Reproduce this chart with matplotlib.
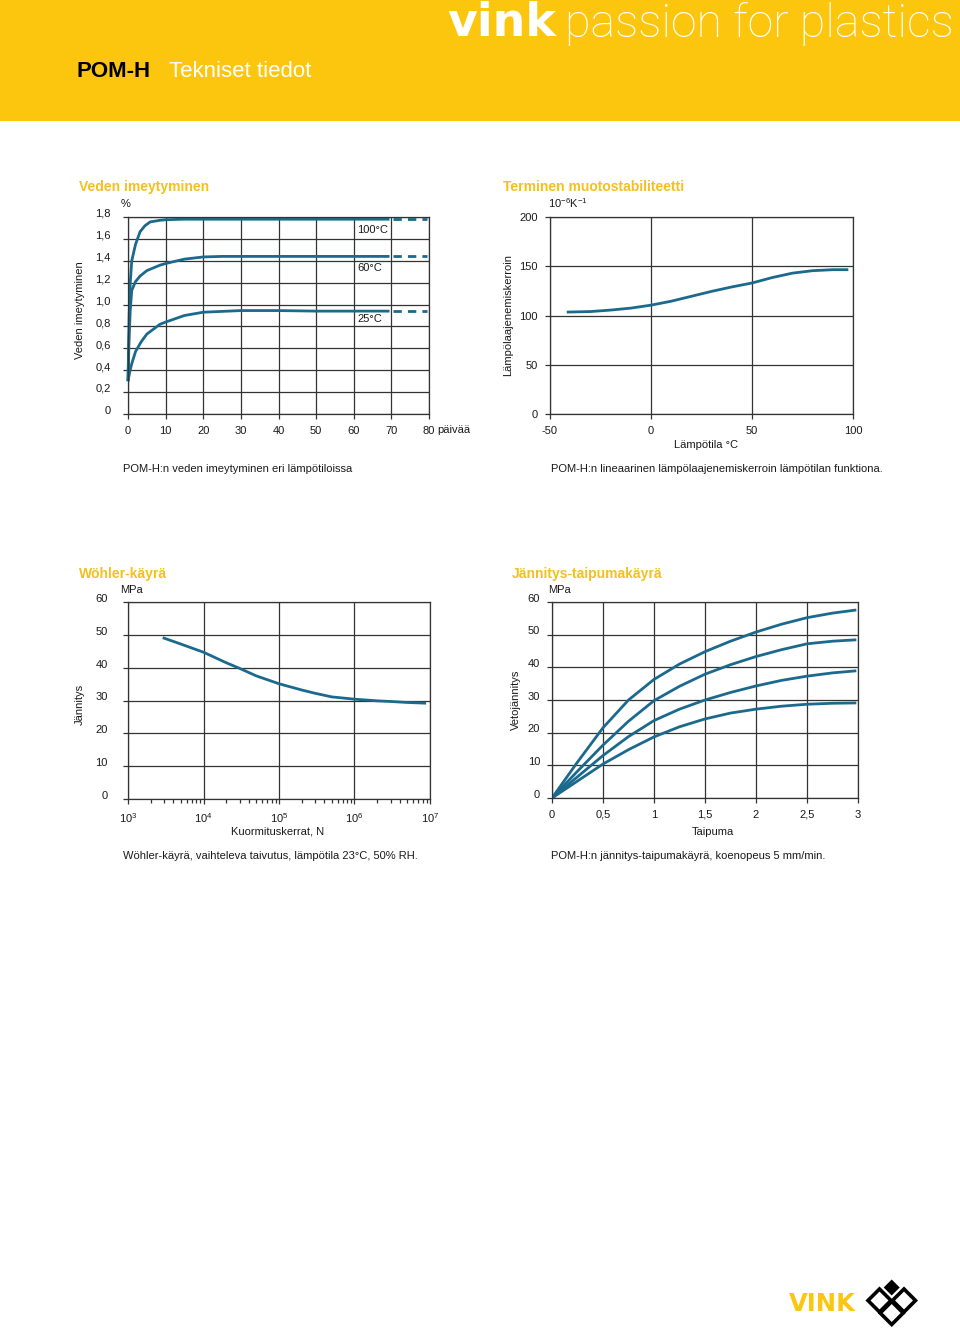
import matplotlib
matplotlib.use("Agg")
import matplotlib.pyplot as plt
from matplotlib.patches import Rectangle, Polygon
from matplotlib.transforms import ScaledTranslation

W, H = 960, 1329

plt.rcParams['font.family'] = ['Liberation Sans', 'DejaVu Sans']
plt.rcParams['mathtext.fontset'] = 'custom'
plt.rcParams['mathtext.rm'] = 'Liberation Sans'
plt.rcParams['axes.unicode_minus'] = False

# --- data -------------------------------------------------------------
# water absorption (%) vs days
days_100 = [0, 0.3, 0.6, 1.0, 2.0, 3.2, 4.5, 5.9, 8.5, 10, 15, 20, 30, 40, 50, 60, 69.5]
abs_100 = [0.3, 0.9, 1.2, 1.4, 1.55, 1.665, 1.72, 1.755, 1.77, 1.775, 1.78, 1.78, 1.78, 1.78, 1.78, 1.78, 1.78]
days_60 = [0, 0.3, 0.6, 1.0, 2.0, 3.2, 5, 8.5, 10, 15, 20, 25, 30, 40, 50, 60, 69.5]
abs_60 = [0.3, 0.7, 0.95, 1.13, 1.21, 1.26, 1.31, 1.36, 1.375, 1.415, 1.435, 1.44, 1.44, 1.44, 1.44, 1.44, 1.44]
days_25 = [0, 0.5, 1.0, 2.0, 3.5, 5, 8.5, 10, 15, 20, 30, 40, 50, 60, 69.5]
abs_25 = [0.3, 0.39, 0.46, 0.57, 0.66, 0.73, 0.82, 0.84, 0.9, 0.93, 0.945, 0.945, 0.94, 0.94, 0.94]
dash_days = [70.4, 79.4]
curve_names = ['100°C', '60°C', '25°C']
label_pos = [1.68, 1.33, 0.87]

# thermal expansion coefficient (1e-6/K) vs temperature
temp_c = [-41, -30, -20, -10, 0, 10, 20, 30, 40, 50, 60, 70, 80, 90, 97]
alpha = [103.5, 104, 105.5, 107.5, 110.5, 114.5, 119.5, 124.5, 129, 133, 138.5, 143, 145.5, 146.5, 146.5]

# Woehler curve
cycles = [3e3, 5e3, 1e4, 2e4, 3e4, 5e4, 1e5, 2e5, 3e5, 5e5, 1e6, 2e6, 3e6, 5e6, 8.5e6]
stress_w = [49, 47.2, 44.7, 41.5, 39.8, 37.5, 35.1, 33.2, 32.2, 31.1, 30.4, 29.9, 29.7, 29.4, 29.2]

# stress-strain curves
strain = [0, 0.25, 0.5, 0.75, 1.0, 1.25, 1.5, 1.75, 2.0, 2.25, 2.5, 2.75, 2.97]
ss_1 = [0, 11, 21.5, 30, 36.3, 41, 44.8, 48, 50.8, 53.2, 55.2, 56.6, 57.5]
ss_2 = [0, 8.2, 16.2, 23.5, 29.8, 34.2, 37.9, 40.8, 43.3, 45.4, 47.2, 48.0, 48.4]
ss_3 = [0, 6.5, 13, 18.8, 23.7, 27.2, 30, 32.3, 34.3, 36, 37.3, 38.3, 38.9]
ss_4 = [0, 5.2, 10.4, 14.8, 18.7, 21.8, 24.2, 26, 27.2, 28.1, 28.7, 29, 29.1]

BLUE = '#1b6a8d'
GRID = '#333333'
YEL = '#fcc60e'
TITLE_YEL = '#f4c01c'


def fx(x):
    return x / W


def fy(y):
    return 1 - y / H


fig = plt.figure(figsize=(W / 100, H / 100), dpi=100)

# background layer in pixel coordinates
bg = fig.add_axes([0, 0, 1, 1])
bg.set_xlim(0, W)
bg.set_ylim(H, 0)
bg.axis('off')
bg.add_patch(Rectangle((0, 0), W, 121, color=YEL, lw=0))

fig.text(fx(447), fy(36), 'vink', color='white', fontsize=33, fontweight='bold',
         family='DejaVu Sans', va='baseline')
fig.text(fx(565), fy(37), 'passion for plastics', color='white', fontsize=33.5,
         family=['Roboto', 'Liberation Sans'], fontweight='light', va='baseline')
fig.text(fx(77), fy(77), 'POM-H', color='black', fontsize=16, fontweight='bold', va='baseline')
fig.text(fx(169), fy(77), 'Tekniset tiedot', color='white', fontsize=16, va='baseline')

# bottom logo
fig.text(fx(789), fy(1311), 'VINK', color=YEL, fontsize=17.5, fontweight='bold',
         family='DejaVu Sans', va='baseline')
for cx, cy in [(879.5, 1300.5), (904, 1300.5), (891.7, 1313)]:
    r = 11.5
    bg.add_patch(Polygon([(cx, cy - r), (cx + r, cy), (cx, cy + r), (cx - r, cy)],
                         closed=True, facecolor='white', edgecolor='black', lw=2.6))
r = 8
cx, cy = 891.7, 1287.5
bg.add_patch(Polygon([(cx, cy - r), (cx + r, cy), (cx, cy + r), (cx - r, cy)],
                     closed=True, facecolor='black', edgecolor='none'))


def make_ax(left, top, right, bottom):
    return fig.add_axes([fx(left), fy(bottom), fx(right) - fx(left), (bottom - top) / H])


def style(ax, ypad=9, yshift=2):
    for s in ax.spines.values():
        s.set_color(GRID)
        s.set_linewidth(0.9)
    ax.grid(True, color=GRID, lw=0.9)
    ax.set_axisbelow(True)
    ax.tick_params(direction='out', length=3.6, width=0.9, color=GRID,
                   labelsize=8, labelcolor='#1a1a1a')
    ax.tick_params(axis='x', pad=5)
    ax.tick_params(axis='y', pad=ypad)
    off = ScaledTranslation(0, yshift / 72, fig.dpi_scale_trans)
    for lab in ax.get_yticklabels():
        lab.set_transform(lab.get_transform() + off)


def txt(x, y, s, **kw):
    kw.setdefault('fontsize', 8)
    kw.setdefault('color', '#1a1a1a')
    kw.setdefault('va', 'center')
    fig.text(fx(x), fy(y), s, **kw)


def title(x, y, s):
    txt(x, y, s, fontsize=10, fontweight='bold', color=TITLE_YEL)


# --- chart 1: water absorption ---
ax1 = make_ax(128, 217, 429, 414)
ax1.set_xlim(0, 80)
ax1.set_ylim(0, 1.8)
ax1.set_xticks(range(0, 81, 10))
ax1.set_yticks([0, 0.2, 0.4, 0.6, 0.8, 1.0, 1.2, 1.4, 1.6, 1.8])
ax1.set_yticklabels(['0', '0,2', '0,4', '0,6', '0,8', '1,0', '1,2', '1,4', '1,6', '1,8'])
style(ax1, ypad=9, yshift=3)
for d, a, name, ly in zip([days_100, days_60, days_25], [abs_100, abs_60, abs_25],
                          curve_names, label_pos):
    ax1.plot(d, a, color=BLUE, lw=2.0, solid_capstyle='butt', clip_on=False)
    ax1.plot(dash_days, [a[-1], a[-1]], color=BLUE, lw=2.0, dashes=(3.0, 2.2))
    ax1.text(61, ly, name, fontsize=8, color='#1a1a1a', va='center')
title(79, 187, 'Veden imeytyminen')
txt(121, 204, '%')
txt(80, 310, 'Veden imeytyminen', rotation=90, ha='center')
txt(437, 430, 'päivää')
txt(123, 469, 'POM-H:n veden imeytyminen eri lämpötiloissa')

# --- chart 2: thermal expansion ---
ax2 = make_ax(550, 217, 853, 414)
ax2.set_xlim(-50, 100)
ax2.set_ylim(0, 200)
ax2.set_xticks([-50, 0, 50, 100])
ax2.set_yticks([0, 50, 100, 150, 200])
style(ax2, ypad=5, yshift=0)
ax2.plot(temp_c, alpha, color=BLUE, lw=2.0)
title(503, 187, 'Terminen muotostabiliteetti')
txt(548, 203, r'$\mathregular{10^{-6}K^{-1}}$')
txt(508, 315, 'Lämpölaajenemiskerroin', rotation=90, ha='center')
txt(706, 445, 'Lämpötila °C', ha='center')
txt(551, 469, 'POM-H:n lineaarinen lämpölaajenemiskerroin lämpötilan funktiona.')

# --- chart 3: Woehler ---
ax3 = make_ax(128, 602, 430, 799)
ax3.set_xscale('log')
ax3.set_xlim(1e3, 1e7)
ax3.set_ylim(0, 60)
ax3.set_xticks([1e3, 1e4, 1e5, 1e6, 1e7])
ax3.set_xticklabels([r'$\mathregular{10^{%d}}$' % e for e in range(3, 8)])
ax3.set_yticks(range(0, 61, 10))
style(ax3, ypad=11, yshift=3)
ax3.grid(False, which='minor')
ax3.tick_params(axis='x', which='minor', direction='out', length=3, width=0.9, color=GRID)
ax3.plot(cycles, stress_w, color=BLUE, lw=2.0)
title(79, 574, 'Wöhler-käyrä')
txt(120, 590, 'MPa')
txt(80, 704, 'Jännitys', rotation=90, ha='center')
txt(278, 832, 'Kuormituskerrat, N', ha='center')
txt(123, 856, 'Wöhler-käyrä, vaihteleva taivutus, lämpötila 23°C, 50% RH.')

# --- chart 4: stress-strain ---
ax4 = make_ax(552, 602, 858, 798)
ax4.set_xlim(0, 3)
ax4.set_ylim(0, 60)
ax4.set_xticks([0, 0.5, 1, 1.5, 2, 2.5, 3])
ax4.set_xticklabels(['0', '0,5', '1', '1,5', '2', '2,5', '3'])
ax4.set_yticks(range(0, 61, 10))
style(ax4, ypad=5, yshift=3)
for ys in [ss_1, ss_2, ss_3, ss_4]:
    ax4.plot(strain, ys, color=BLUE, lw=2.0)
title(512, 574, 'Jännitys-taipumakäyrä')
txt(548, 590, 'MPa')
txt(516, 700, 'Vetojännitys', rotation=90, ha='center')
txt(713, 832, 'Taipuma', ha='center')
txt(551, 856, 'POM-H:n jännitys-taipumakäyrä, koenopeus 5 mm/min.')

fig.savefig('out.png', dpi=100)
